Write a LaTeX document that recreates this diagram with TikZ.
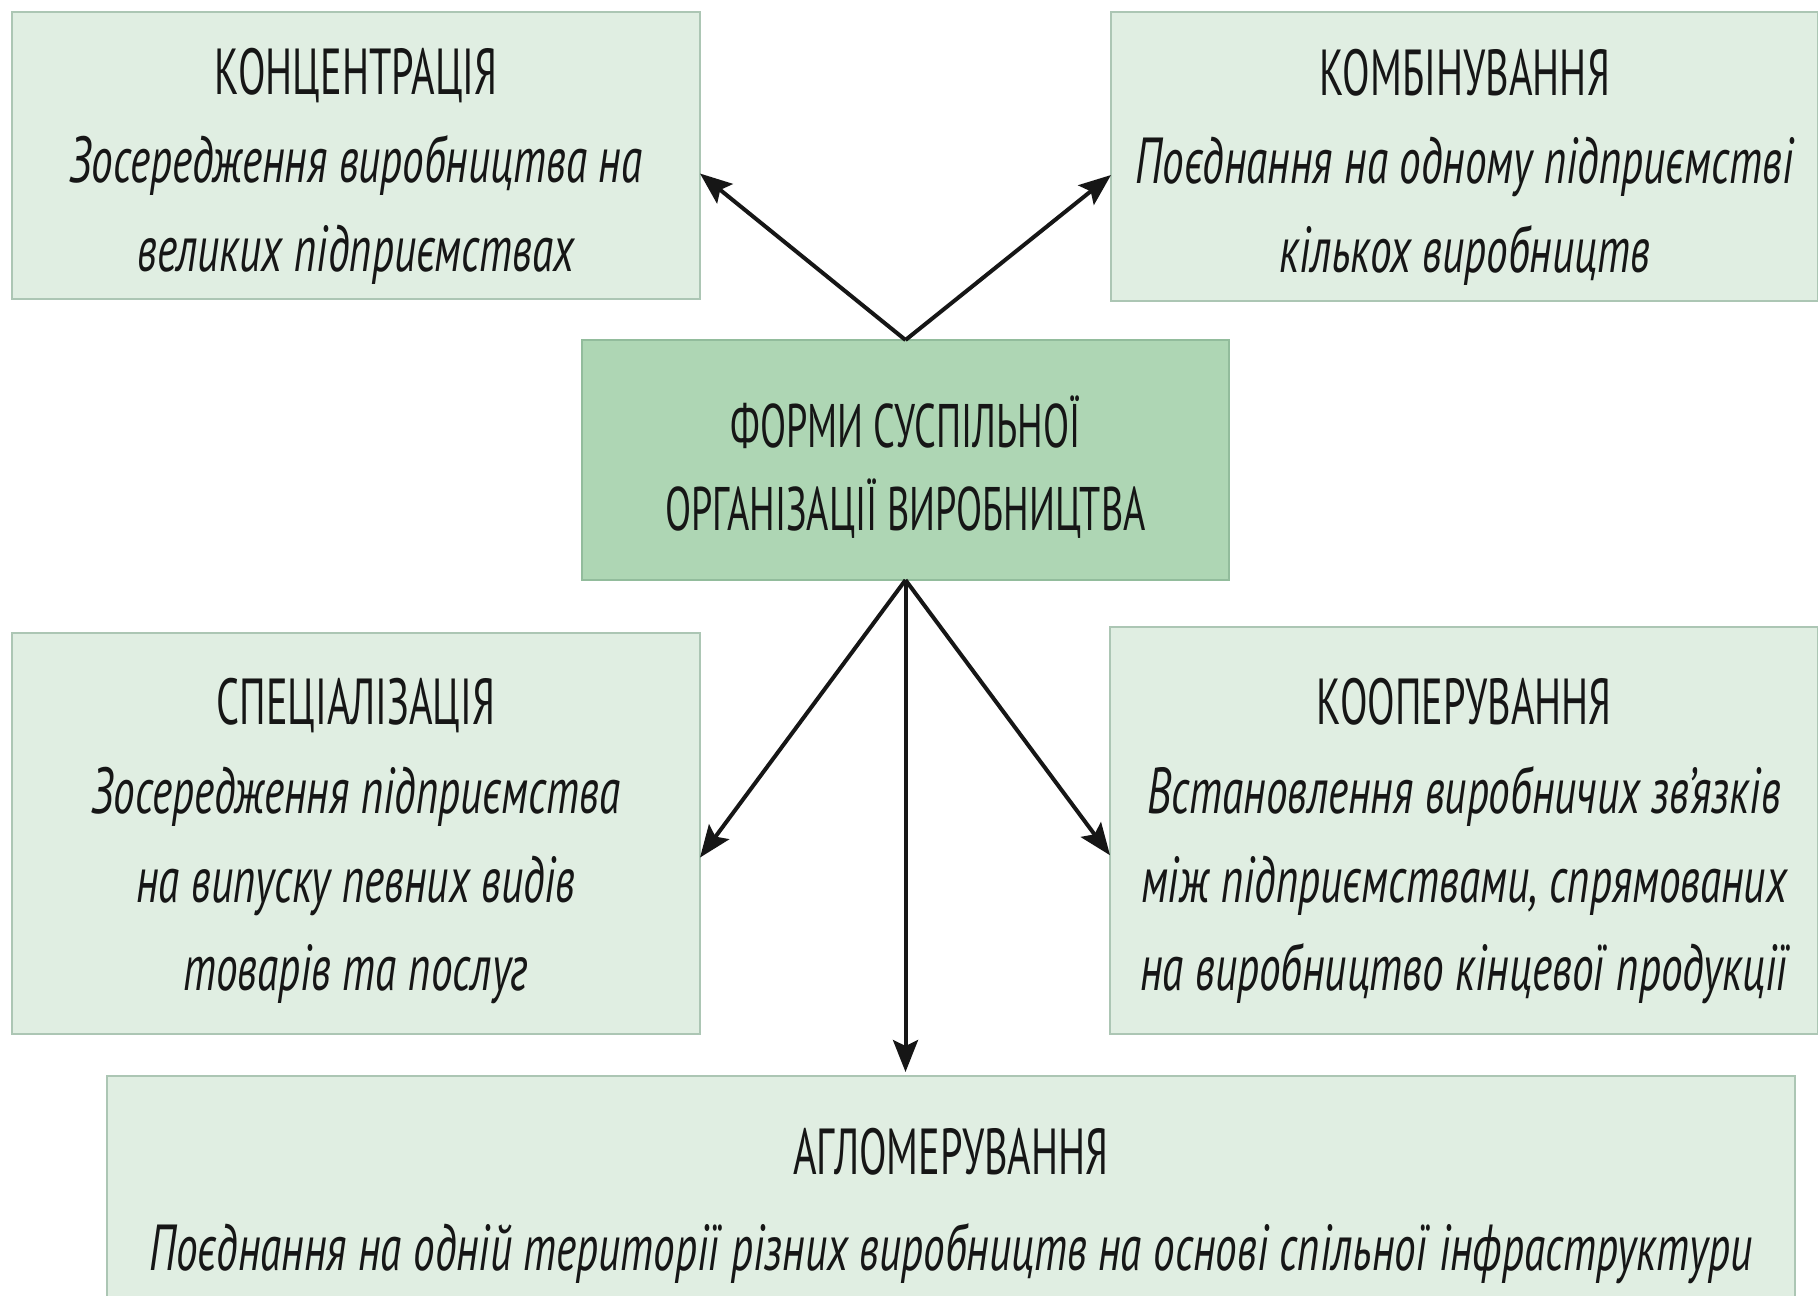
\documentclass[tikz,border=0pt]{standalone}
\usepackage{fontspec}
\usepackage{tikz}
\usetikzlibrary{positioning,arrows.meta}
\newfontfamily\boxfont[FakeStretch=0.62,ItalicFeatures={FakeStretch=0.665}]{PT Sans}
\newcommand\lift[1]{\rule{0pt}{#1}}
\definecolor{paleleaf}{RGB}{224,238,226}
\definecolor{paleedge}{RGB}{172,198,180}
\definecolor{hubleaf}{RGB}{174,214,180}
\definecolor{hubedge}{RGB}{146,188,156}
\definecolor{inkgray}{RGB}{22,22,22}

\begin{document}
\begin{tikzpicture}[x=0.1mm,y=-0.1mm,on grid,
    form/.style={rectangle,draw=paleedge,fill=paleleaf,line width=0.2mm,
      inner sep=0pt,outer sep=0pt,align=center,text=inkgray,
      font=\boxfont\fontsize{18.5}{25.2}\selectfont},
    hub/.style={form,draw=hubedge,fill=hubleaf,
      font=\boxfont\fontsize{17.5}{23.6}\selectfont},
    link/.style={-{Stealth[length=3.2mm,width=2.5mm,inset=0.6mm]},line width=0.4mm,
      shorten >=0pt,inkgray}]
  \useasboundingbox (0,0) rectangle (1818,1296);
  \node[hub, minimum width=64.7mm, minimum height=24mm] (hub) at (905.5,460)
    {\lift{6.6mm}ФОРМИ СУСПІЛЬНОЇ\\ОРГАНІЗАЦІЇ ВИРОБНИЦТВА};
  \node[form, minimum width=68.8mm, minimum height=28.7mm] (conc)
    [above left=30.45mm and 54.95mm of hub]
    {\lift{6.8mm}КОНЦЕНТРАЦІЯ\\\itshape Зосередження виробництва на\\\itshape великих підприємствах};
  \node[form, minimum width=70.7mm, minimum height=28.9mm] (comb)
    [above right=30.35mm and 55.9mm of hub]
    {\lift{6.8mm}КОМБІНУВАННЯ\\\itshape Поєднання на одному підприємстві\\\itshape кількох виробництв};
  \node[form, minimum width=68.8mm, minimum height=40.1mm] (spec)
    [below left=37.35mm and 54.95mm of hub]
    {\lift{6.2mm}СПЕЦІАЛІЗАЦІЯ\\\itshape Зосередження підприємства\\\itshape на випуску певних видів\\\itshape товарів та послуг};
  \node[form, minimum width=70.8mm, minimum height=40.7mm] (coop)
    [below right=37.05mm and 55.85mm of hub]
    {\lift{6.8mm}КООПЕРУВАННЯ\\\itshape Встановлення виробничих зв’язків\\\itshape між підприємствами, спрямованих\\\itshape на виробництво кінцевої продукції};
  \node[form, minimum width=168.8mm, minimum height=22.4mm] (aggl) at (951,1188)
    {\lift{8.2mm}АГЛОМЕРУВАННЯ\\[0.7mm]\itshape Поєднання на одній території різних виробництв на основі спільної інфраструктури};
  \path[link]
    (hub.north)
      edge (conc.-3)
      edge (comb.183)
    (hub.south)
      edge (spec.-4)
      edge ([yshift=0.4mm]hub.south |- aggl.north)
      edge (coop.184);
\end{tikzpicture}
\end{document}
